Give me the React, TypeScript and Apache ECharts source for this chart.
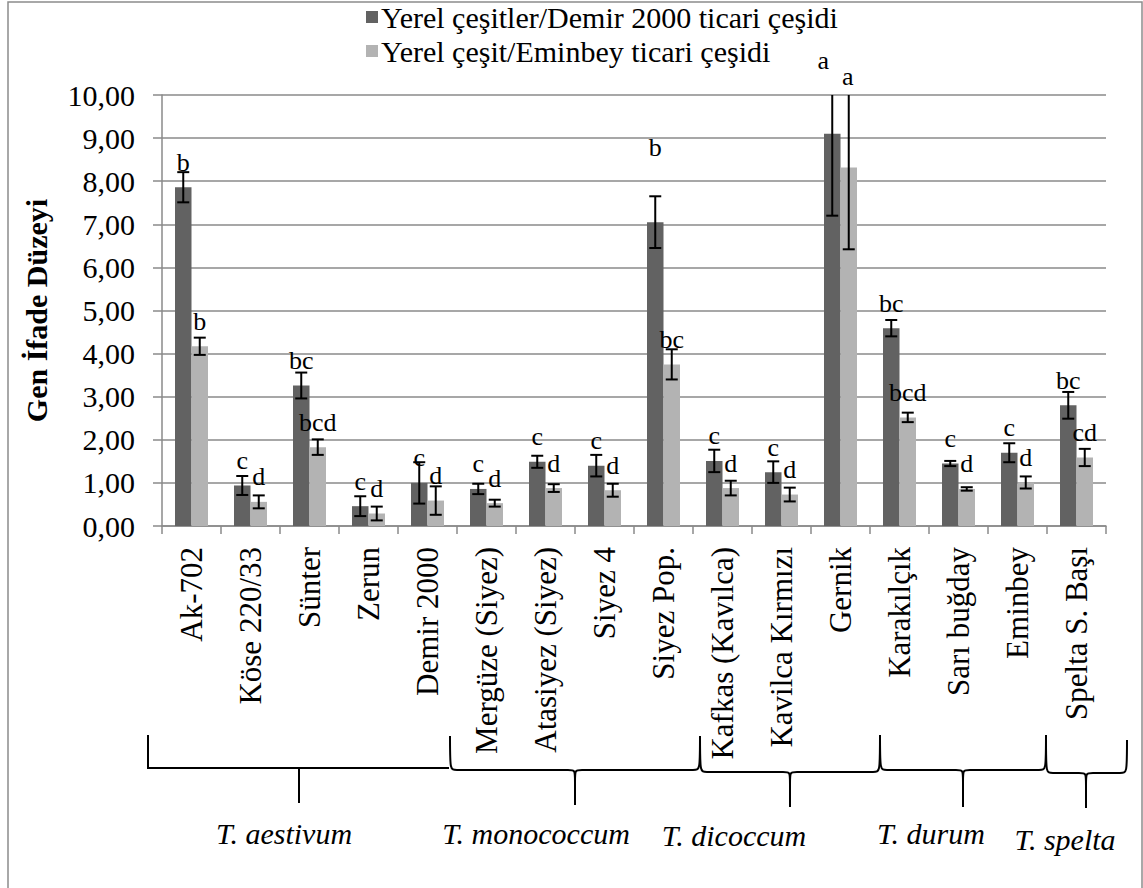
import React, { useEffect, useRef } from "react";
import * as echarts from "echarts";

const categories = [
  "Ak-702", "Köse 220/33", "Sünter", "Zerun", "Demir 2000",
  "Mergüze (Siyez)", "Atasiyez (Siyez)", "Siyez 4", "Siyez Pop.",
  "Kafkas (Kavılca)", "Kavilca Kırmızı", "Gernik", "Karakılçık",
  "Sarı buğday", "Eminbey", "Spelta S. Başı",
];
const seriesNames = [
  "Yerel çeşitler/Demir 2000 ticari çeşidi",
  "Yerel çeşit/Eminbey ticari çeşidi",
];
const demirValues = [7.86, 0.94, 3.26, 0.46, 1.0, 0.86, 1.49, 1.4, 7.05, 1.51, 1.25, 9.1, 4.59, 1.45, 1.7, 2.8];
const demirErrors = [0.35, 0.22, 0.3, 0.23, 0.48, 0.12, 0.14, 0.25, 0.6, 0.26, 0.25, 1.9, 0.19, 0.06, 0.22, 0.31];
const eminbeyValues = [4.17, 0.56, 1.83, 0.29, 0.59, 0.53, 0.88, 0.83, 3.75, 0.88, 0.73, 8.32, 2.52, 0.86, 1.01, 1.59];
const eminbeyErrors = [0.2, 0.15, 0.18, 0.16, 0.33, 0.08, 0.09, 0.15, 0.35, 0.17, 0.16, 1.9, 0.11, 0.04, 0.14, 0.2];
const demirLetters = ["b", "c", "bc", "c", "c", "c", "c", "c", "b", "c", "c", "a", "bc", "c", "c", "bc"];
const eminbeyLetters = ["b", "d", "bcd", "d", "d", "d", "d", "d", "bc", "d", "d", "a", "bcd", "d", "d", "cd"];
const yTicks = [0, 1, 2, 3, 4, 5, 6, 7, 8, 9, 10];
const groupNames = ["T. aestivum", "T. monococcum", "T. dicoccum", "T. durum", "T. spelta"];

// label nudges (pixels) for letters moved by hand in the original
const demirLabelShift: Record<number, number[]> = { 8: [0, -50], 11: [-9, -48] };
const eminbeyLabelShift: Record<number, number[]> = { 11: [-1, -66] };

const SERIF = "'Liberation Serif', 'Times New Roman', serif";
const DARK = "#626262";
const LIGHT = "#b3b3b3";
const GRID = "#8a8a8a";
const BAR_W = 16.5;

function bracePath(x0: number, x1: number, xm: number, yTop: number, yH: number, yTip: number) {
  const c = 7;
  return [
    `M${x0},${yTop}`,
    `C${x0},${yH} ${x0},${yH} ${x0 + c},${yH}`,
    `L${xm - c},${yH}`,
    `C${xm},${yH} ${xm},${yH} ${xm},${yH + 12}`,
    `L${xm},${yTip}`,
    `M${xm},${yH + 12}`,
    `C${xm},${yH} ${xm},${yH} ${xm + c},${yH}`,
    `L${x1 - c},${yH}`,
    `C${x1},${yH} ${x1},${yH} ${x1},${yTop}`,
  ].join(" ");
}

const braces = [
  { name: "brace1", d: bracePath(450, 700, 575, 736, 770, 805) },
  { name: "brace2", d: bracePath(700, 880, 790, 736, 772, 807) },
  { name: "brace3", d: bracePath(880, 1046, 963, 735, 770, 807) },
  { name: "brace4", d: bracePath(1046, 1127, 1086, 740, 773, 808) },
];
braces.forEach((b) => {
  echarts.graphic.registerShape(b.name, echarts.graphic.extendPath(b.d, {}));
});

function errorSeries(values: number[], errors: number[], shift: number) {
  return {
    type: "custom",
    clip: true,
    z: 5,
    silent: true,
    data: values.map((v, i) => [i, v, errors[i]]),
    renderItem: (params: any, api: any) => {
      const i = api.value(0);
      const v = api.value(1);
      const e = api.value(2);
      const top = api.coord([i, v + e]);
      const bot = api.coord([i, v - e]);
      const cx = top[0] + shift;
      const cap = 6;
      const st = { stroke: "#000", lineWidth: 2 };
      return {
        type: "group",
        children: [
          { type: "line", shape: { x1: cx, y1: top[1], x2: cx, y2: bot[1] }, style: st },
          { type: "line", shape: { x1: cx - cap, y1: top[1], x2: cx + cap, y2: top[1] }, style: st },
          { type: "line", shape: { x1: cx - cap, y1: bot[1], x2: cx + cap, y2: bot[1] }, style: st },
        ],
      };
    },
  };
}

function barData(values: number[], letters: string[], shifts: Record<number, number[]>) {
  return values.map((v, i) => {
    const item: any = { value: v, letter: letters[i] };
    if (shifts[i]) item.label = { offset: shifts[i] };
    return item;
  });
}

export default function App() {
  const ref = useRef<HTMLDivElement>(null);
  useEffect(() => {
    document.body.style.margin = "0";
    const chart = echarts.init(ref.current!, null, { renderer: "svg" });
    const letterLabel = {
      show: true,
      position: "top",
      distance: 12,
      fontFamily: SERIF,
      fontSize: 26,
      color: "#000",
      formatter: (p: any) => p.data.letter,
    };
    const groupTextStyle = { fontFamily: SERIF, fontStyle: "italic", fontSize: 30, fill: "#000", textAlign: "center", textVerticalAlign: "middle" };
    const groupCenters = [[284, 833], [536, 833], [734, 835], [931, 833], [1065, 839]];
    chart.setOption({
      animation: false,
      backgroundColor: "#fff",
      textStyle: { fontFamily: SERIF },
      legend: {
        orient: "vertical",
        left: 366,
        top: 2,
        padding: 0,
        itemWidth: 12,
        itemHeight: 12,
        itemGap: 4,
        icon: "rect",
        data: seriesNames,
        textStyle: { fontFamily: SERIF, fontSize: 30, color: "#000", lineHeight: 30, padding: [0, 0, 0, -2] },
      },
      grid: { left: 162, right: 37, top: 95, bottom: 362, containLabel: false },
      xAxis: {
        type: "category",
        data: categories,
        axisLine: { lineStyle: { color: GRID, width: 1.5 } },
        axisTick: { show: true, length: 8, lineStyle: { color: GRID, width: 1.5 } },
        axisLabel: { interval: 0, rotate: 90, margin: 21, fontFamily: SERIF, fontSize: 31, color: "#000" },
      },
      yAxis: {
        type: "value",
        min: yTicks[0],
        max: yTicks[yTicks.length - 1],
        interval: 1,
        name: "Gen İfade Düzeyi",
        nameLocation: "middle",
        nameRotate: 90,
        nameGap: 111,
        nameTextStyle: { fontFamily: SERIF, fontSize: 30, fontWeight: "bold", color: "#000" },
        axisLine: { show: true, lineStyle: { color: GRID, width: 1.5 } },
        axisTick: { show: true, length: 9, lineStyle: { color: GRID, width: 1.5 } },
        splitLine: { lineStyle: { color: GRID, width: 1.5 } },
        axisLabel: {
          margin: 27,
          fontFamily: SERIF,
          fontSize: 30,
          color: "#000",
          formatter: (v: number) => v.toFixed(2).replace(".", ","),
        },
      },
      series: [
        {
          name: seriesNames[0],
          type: "bar",
          barWidth: BAR_W,
          barGap: "0%",
          itemStyle: { color: DARK },
          label: letterLabel,
          data: barData(demirValues, demirLetters, demirLabelShift),
        },
        {
          name: seriesNames[1],
          type: "bar",
          barWidth: BAR_W,
          barGap: "0%",
          itemStyle: { color: LIGHT },
          label: letterLabel,
          data: barData(eminbeyValues, eminbeyLetters, eminbeyLabelShift),
        },
        errorSeries(demirValues, demirErrors, -BAR_W / 2),
        errorSeries(eminbeyValues, eminbeyErrors, BAR_W / 2),
      ],
      graphic: [
        { type: "rect", shape: { x: 8, y: 2, width: 1134, height: 900 }, style: { fill: "none", stroke: "#8c8c8c", lineWidth: 1.5 }, silent: true },
        { type: "polyline", shape: { points: [[148, 735], [148, 768], [449, 768]] }, style: { fill: "none", stroke: "#000", lineWidth: 2 } },
        { type: "line", shape: { x1: 299, y1: 768, x2: 299, y2: 803 }, style: { stroke: "#000", lineWidth: 2 } },
        ...braces.map((b) => ({ type: b.name, x: 0, y: 0, scaleX: 1, scaleY: 1, style: { fill: "none", stroke: "#000", lineWidth: 2 } })),
        ...groupNames.map((g, i) => ({
          type: "text",
          x: groupCenters[i][0],
          y: groupCenters[i][1],
          style: { ...groupTextStyle, text: g },
        })),
      ],
    });
    return () => chart.dispose();
  }, []);
  return <div ref={ref} style={{ width: 1143, height: 888 }} />;
}
